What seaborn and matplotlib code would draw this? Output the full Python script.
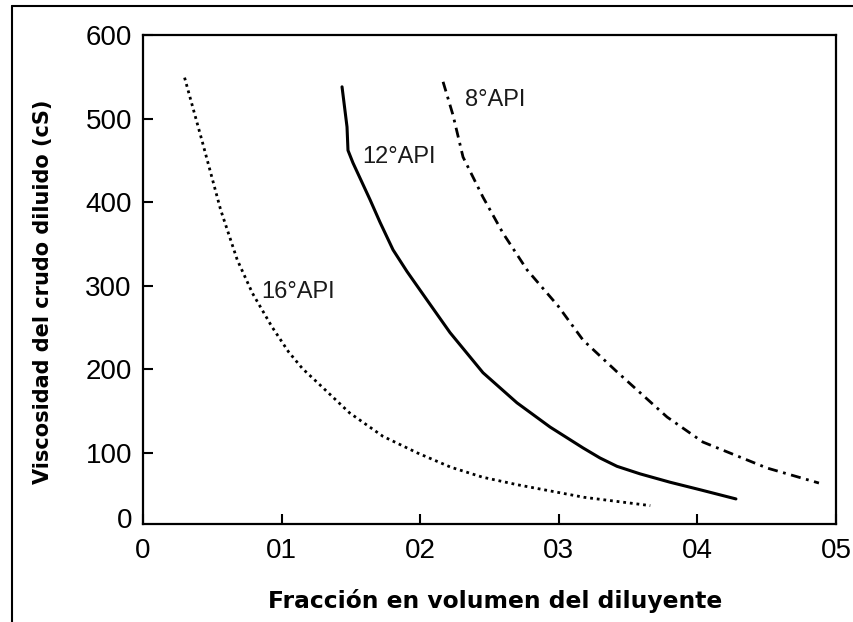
import matplotlib
matplotlib.use("Agg")
import matplotlib.pyplot as plt
import seaborn as sns
import numpy as np
import pandas as pd
from matplotlib.lines import Line2D

# ---- data ----
x_16 = [0.030, 0.043, 0.056, 0.068, 0.079, 0.093, 0.105, 0.115, 0.126, 0.149, 0.173, 0.198, 0.222, 0.245, 0.270, 0.318, 0.366]
y_16 = [549, 471, 391, 331, 291, 251, 221, 201, 184, 148, 120, 100, 83, 71, 62, 47, 37]

x_12 = [0.1436, 0.1472, 0.1479, 0.1515, 0.1638, 0.1710, 0.1804, 0.1905, 0.2049, 0.2215, 0.2453, 0.2698, 0.2937, 0.3175, 0.3297, 0.3420, 0.3586, 0.3802, 0.4019, 0.4278]
y_12 = [538, 490, 462, 447, 403, 376, 343, 317, 283, 244, 196, 160, 131, 106, 94, 84, 75, 65, 56, 45]

x_8 = [0.2165, 0.2237, 0.2309, 0.2453, 0.2597, 0.2771, 0.2994, 0.3175, 0.3420, 0.3781, 0.4040, 0.4502, 0.4877]
y_8 = [544, 504, 454, 406, 363, 319, 276, 235, 197, 143, 113, 82, 64]

series_labels = ["16°API", "12°API", "8°API"]
label_pos_x = [0.085, 0.158, 0.232]
label_pos_y = [293, 454, 522]

x_ticks = [0, 0.1, 0.2, 0.3, 0.4, 0.5]
x_ticklabels = ["0", "01", "02", "03", "04", "05"]
y_ticks = [100, 200, 300, 400, 500, 600]
y_ticklabels = ["100", "200", "300", "400", "500", "600"]
y_zero_pos = [22]
y_zero_label = ["0"]

xlabel = "Fracción en volumen del diluyente"
ylabel = "Viscosidad del crudo diluido (cS)"

# ---- style ----
sns.set_style("ticks")
plt.rcParams["font.family"] = ["Liberation Sans", "DejaVu Sans"]

fig = plt.figure(figsize=(8.54, 6.22), dpi=100)
ax = fig.add_axes([143/854, 1-524/622, (836-143)/854, (524-35)/622])

sns.lineplot(x=x_16, y=y_16, ax=ax, color="black", linewidth=2.0, sort=False,
             estimator=None, linestyle=(0, (1, 1.4)), dash_capstyle="butt")
sns.lineplot(x=x_12, y=y_12, ax=ax, color="black", linewidth=2.2, sort=False,
             estimator=None, solid_joinstyle="round")
sns.lineplot(x=x_8, y=y_8, ax=ax, color="black", linewidth=2.0, sort=False,
             estimator=None, linestyle=(0, (3.6, 2.0, 1.0, 2.0)), dash_capstyle="butt")

for lab, lx, ly in zip(series_labels, label_pos_x, label_pos_y):
    ax.text(lx, ly, lab, fontsize=17, ha="left", va="center", color="#1a1a1a",
            family=["Liberation Sans", "DejaVu Sans"])

ax.set_xlim(0, 0.5)
ax.set_ylim(15, 600)
ax.set_xticks(x_ticks)
ax.set_xticklabels(x_ticklabels)
ax.set_yticks(y_ticks)
ax.set_yticklabels(y_ticklabels)
ax.set_yticks(y_zero_pos, minor=True)
ax.set_yticklabels(y_zero_label, minor=True)
ax.tick_params(axis="both", which="major", direction="in", length=7, width=1.5,
               labelsize=20, colors="black")
ax.tick_params(axis="x", which="major", pad=10)
ax.tick_params(axis="y", which="major", pad=8)
ax.tick_params(axis="y", which="minor", length=0, labelsize=20, pad=8, colors="black")

for s in ax.spines.values():
    s.set_visible(True)
    s.set_linewidth(1.6)
    s.set_color("black")

ax.set_xlabel(xlabel, fontsize=16.8, fontweight="bold", family="DejaVu Sans", color="black")
ax.set_ylabel(ylabel, fontsize=15, fontweight="bold", family="DejaVu Sans", color="black")
ax.xaxis.set_label_coords(0.508, -0.132)
ax.xaxis.label.set_va("top")
ax.yaxis.set_label_coords(-0.144, 0.474)
ax.yaxis.label.set_va("center")

# figure frame (left and top edges)
fig.add_artist(Line2D([12/854, 12/854], [0, 1-6/622], transform=fig.transFigure,
                      color="black", linewidth=1.5))
fig.add_artist(Line2D([12/854, 1], [1-6/622, 1-6/622], transform=fig.transFigure,
                      color="black", linewidth=1.5))

fig.savefig("out.png", dpi=100)
